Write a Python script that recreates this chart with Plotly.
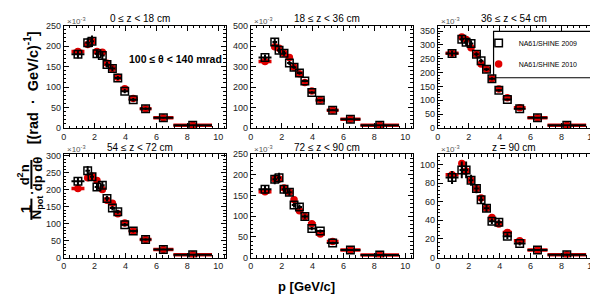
import plotly.graph_objects as go
from plotly.subplots import make_subplots

# ---------------- data ----------------
p_centers = [0.92, 1.55, 1.83, 2.15, 2.5, 2.8, 3.15, 3.5, 3.95, 4.5, 5.3, 6.45, 8.35]
p_halfw = [0.42, 0.15, 0.13, 0.15, 0.15, 0.15, 0.17, 0.2, 0.25, 0.3, 0.38, 0.65, 1.25]

panel_titles = ["0 \u2264 z < 18 cm", "18 \u2264 z < 36 cm", "36 \u2264 z < 54 cm",
                "54 \u2264 z < 72 cm", "72 \u2264 z < 90 cm", "z = 90 cm"]

y2009_z1 = [180, 208, 212, 181, 177, 155, 145, 122, 90, 69, 47, 25, 7]
y2010_z1 = [187, 204, 212, 187, 185, 158, 145, 124, 96, 72, 47, 25, 7]
e2009_z1 = [10, 12, 14, 10, 10, 7, 6, 5, 5, 4, 3, 2, 1]
e2010_z1 = [4, 5, 5, 4, 4, 4, 3, 3, 3, 2, 2, 1, 1]

y2009_z2 = [344, 420, 379, 365, 317, 297, 268, 230, 173, 135, 87, 43, 14]
y2010_z2 = [325, 397, 389, 365, 344, 297, 265, 222, 181, 135, 87, 43, 14]
e2009_z2 = [15, 18, 15, 12, 10, 8, 8, 7, 6, 5, 4, 3, 1]
e2010_z2 = [8, 8, 8, 7, 7, 6, 6, 5, 5, 4, 3, 2, 1]

y2009_z3 = [269, 321, 310, 305, 266, 243, 212, 178, 136, 103, 70, 37, 10]
y2010_z3 = [270, 329, 320, 290, 266, 231, 212, 178, 141, 109, 73, 37, 10]
e2009_z3 = [10, 14, 14, 12, 8, 7, 6, 5, 5, 4, 3, 2, 1]
e2010_z3 = [6, 7, 7, 6, 6, 5, 5, 4, 4, 3, 3, 2, 1]

y2009_z4 = [225, 256, 238, 208, 213, 174, 146, 135, 97, 78, 53, 24, 8]
y2010_z4 = [204, 235, 240, 227, 201, 169, 160, 129, 102, 78, 53, 24, 8]
e2009_z4 = [12, 14, 12, 10, 10, 8, 7, 6, 5, 4, 3, 2, 1]
e2010_z4 = [6, 6, 6, 6, 5, 5, 5, 4, 4, 3, 2, 2, 1]

y2009_z5 = [165, 189, 193, 165, 158, 127, 122, 99, 70, 64, 35, 18, 6]
y2010_z5 = [159, 190, 190, 168, 158, 140, 113, 99, 82, 57, 39, 18, 6]
e2009_z5 = [10, 12, 12, 10, 8, 6, 6, 5, 4, 4, 3, 2, 1]
e2010_z5 = [5, 6, 6, 5, 5, 4, 4, 4, 3, 3, 2, 1, 1]

y2009_z6 = [86, 94, 94, 83, 74, 62, 53, 39, 38, 23, 15, 8, 3]
y2010_z6 = [89, 101, 93, 83, 74, 64, 53, 43, 36, 27, 18, 8, 3]
e2009_z6 = [7, 9, 9, 6, 5, 4, 4, 3, 3, 3, 2, 1, 1]
e2010_z6 = [3, 3, 3, 3, 3, 2, 2, 2, 2, 2, 1, 1, 1]

series2009 = [y2009_z1, y2009_z2, y2009_z3, y2009_z4, y2009_z5, y2009_z6]
series2010 = [y2010_z1, y2010_z2, y2010_z3, y2010_z4, y2010_z5, y2010_z6]
err2009 = [e2009_z1, e2009_z2, e2009_z3, e2009_z4, e2009_z5, e2009_z6]
err2010 = [e2010_z1, e2010_z2, e2010_z3, e2010_z4, e2010_z5, e2010_z6]

y_max = [250, 500, 370, 305, 250, 111]
y_dtick = [50, 100, 50, 50, 50, 20]
y_minor = [10, 20, 10, 10, 10, 4]
x_ticks = [0, 2, 4, 6, 8, 10]

# ---------------- figure ----------------
W, H = 598, 300
fig = make_subplots(rows=2, cols=3)

col_px = [(53, 216), (241, 404), (429, 592)]
row_px = [(13, 119), (146, 253)]

FONT = "Liberation Sans, Arial, Helvetica, sans-serif"

for i in range(6):
    r, c = i // 3 + 1, i % 3 + 1
    show = (i == 2)
    fig.add_trace(go.Scatter(
        x=p_centers, y=series2010[i], mode="markers",
        name="NA61/SHINE 2010", showlegend=show, legendgroup="b", legendrank=2,
        marker=dict(symbol="circle", size=7.5, color="#e00000", line=dict(width=0)),
        error_x=dict(type="data", array=p_halfw, color="#e00000", thickness=3.5, width=0),
        error_y=dict(type="data", array=err2010[i], color="#e00000", thickness=3.5, width=0),
    ), row=r, col=c)
    fig.add_trace(go.Scatter(
        x=p_centers, y=series2009[i], mode="markers",
        name="NA61/SHINE 2009", showlegend=show, legendgroup="a", legendrank=1,
        marker=dict(symbol="square-open", size=7.5, color="black", line=dict(width=1.5, color="black")),
        error_x=dict(type="data", array=p_halfw, color="black", thickness=2, width=0),
        error_y=dict(type="data", array=err2009[i], color="black", thickness=2, width=0),
    ), row=r, col=c)

axis_common = dict(showline=True, linecolor="black", linewidth=1, mirror="allticks",
                   ticks="inside", ticklen=5, tickcolor="black", showgrid=False, zeroline=False,
                   tickfont=dict(family=FONT, size=9, color="#222"))

for i in range(6):
    r, c = i // 3, i % 3
    xname = "xaxis" if i == 0 else f"xaxis{i+1}"
    yname = "yaxis" if i == 0 else f"yaxis{i+1}"
    x0, x1 = col_px[c]
    yt, yb = row_px[r]
    fig.layout[xname].update(domain=[x0 / W, x1 / W], range=[0, 10.5],
                             tickvals=x_ticks, minor=dict(dtick=0.4, ticks="inside", ticklen=2.5, tickcolor="black"),
                             **axis_common)
    fig.layout[yname].update(domain=[1 - yb / H, 1 - yt / H], range=[0, y_max[i]],
                             dtick=y_dtick[i], tick0=0,
                             minor=dict(dtick=y_minor[i], ticks="inside", ticklen=2.5, tickcolor="black"),
                             **axis_common)
    # panel title
    fig.add_annotation(x=((x0 + x1) / 2 - 5) / W, y=1 - (yt - 7) / H, xref="paper", yref="paper",
                       text=panel_titles[i], showarrow=False, xanchor="center", yanchor="middle",
                       font=dict(family=FONT, size=10, color="black"))
    # x10^-3
    fig.add_annotation(x=(x0 + 1) / W, y=1 - (yt - 5) / H, xref="paper", yref="paper",
                       text="\u00d710<sup>-3</sup>", showarrow=False, xanchor="left", yanchor="middle",
                       font=dict(family=FONT, size=8, color="#555"))

# theta label
fig.add_annotation(x=117 / W, y=1 - 48 / H, xref="paper", yref="paper",
                   text="<b>100 \u2264 \u03b8 < 140 mrad</b>", showarrow=False, xanchor="left", yanchor="middle",
                   font=dict(family=FONT, size=10.5, color="black"))

# x-axis title
fig.add_annotation(x=297 / W, y=1 - 283 / H, xref="paper", yref="paper",
                   text="<b>p [GeV/c]</b>", showarrow=False, xanchor="center", yanchor="middle",
                   font=dict(family=FONT, size=13, color="black"))

# y-axis title pieces (rotated)
def yt_ann(x, y, text, size=13):
    fig.add_annotation(x=x / W, y=1 - y / H, xref="paper", yref="paper", text=text,
                       showarrow=False, textangle=-90, xanchor="center", yanchor="middle",
                       font=dict(family=FONT, size=size, color="black"))

yt_ann(14, 203, "<b>1</b>", 15)
yt_ann(26, 201, "<b>N<sub>pot</sub></b>", 13)
yt_ann(21, 186, "<b>\u00b7</b>", 13)
yt_ann(13, 167, "<b>d<sup>2</sup>n</b>", 13)
yt_ann(27, 167, "<b>dp d\u03b8</b>", 13)
yt_ann(21, 77, "<b>[(rad  \u00b7  GeV/c)<sup>-1</sup>]</b>", 14.5)
fig.add_shape(type="line", xref="paper", yref="paper", x0=20.5 / W, x1=20.5 / W,
              y0=1 - 192 / H, y1=1 - 214 / H, line=dict(color="black", width=2))
fig.add_shape(type="line", xref="paper", yref="paper", x0=20.5 / W, x1=20.5 / W,
              y0=1 - 152 / H, y1=1 - 182 / H, line=dict(color="black", width=2))

# legend frame
fig.add_shape(type="rect", xref="paper", yref="paper", x0=485 / W, x1=589 / W,
              y0=1 - 67 / H, y1=1 - 19 / H, line=dict(color="black", width=1.2),
              fillcolor="white", layer="below")

fig.update_layout(
    width=W, height=H, margin=dict(l=0, r=0, t=0, b=0),
    paper_bgcolor="white", plot_bgcolor="white",
    legend=dict(x=470 / W, y=1 - 16 / H, xanchor="left", yanchor="top",
                borderwidth=0, bgcolor="rgba(0,0,0,0)",
                font=dict(family=FONT, size=7, color="black"),
                tracegroupgap=2, traceorder="grouped", itemwidth=30),
)

fig.write_html("out.html")
